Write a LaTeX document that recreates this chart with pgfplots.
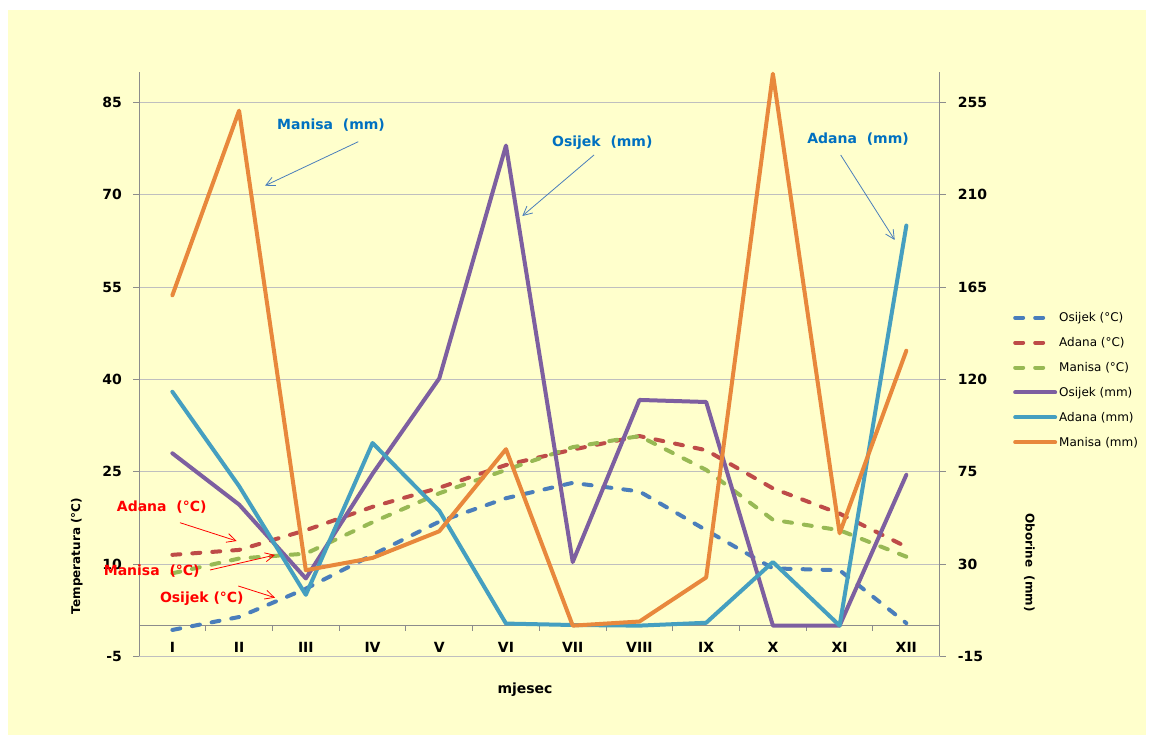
\documentclass[border=0pt]{standalone}
\usepackage{fontspec}
\setmainfont{DejaVu Sans}
\usepackage{pgfplots}
\usepackage{pgfplotstable}
\pgfplotsset{compat=1.18}
\usetikzlibrary{arrows.meta}

\definecolor{bg}{HTML}{FFFFCC}
\definecolor{cOsT}{HTML}{4A7EBB}
\definecolor{cAdT}{HTML}{BE4B48}
\definecolor{cMaT}{HTML}{98B954}
\definecolor{cOsP}{HTML}{7D5FA0}
\definecolor{cAdP}{HTML}{459FC0}
\definecolor{cMaP}{HTML}{E8883C}
\definecolor{gridc}{HTML}{BFBFBF}
\definecolor{axc}{HTML}{8C8C8C}
\definecolor{annb}{HTML}{0070C0}
\definecolor{arrb}{HTML}{4A7EBB}

\pgfplotstableread{
m os ad ma
1 -0.7 11.5 8.5
2 1.4 12.3 10.9
3 6.0 15.5 11.7
4 11.5 19.3 16.8
5 16.9 22.4 21.5
6 20.7 26.1 25.3
7 23.2 28.6 29.0
8 21.8 30.8 30.8
9 15.5 28.5 25.3
10 9.3 22.3 17.2
11 9.0 18.2 15.5
12 0.4 12.8 11.2
}\temp

\pgfplotstableread{
m os ad ma
1 84 114 161
2 59 68 251
3 23 15 27
4 74 89 33
5 120.5 56 46
6 234 1 86
7 31 0.3 0
8 110 0 2
9 109 1.4 23.5
10 0 31 269
11 0 0 45
12 73.5 195 134
}\prec

\tikzset{
  tdash/.style={line width=4pt, dash pattern=on 8pt off 12pt, line cap=round, line join=round},
  psol/.style={line width=4pt, line cap=round, line join=round},
}
\pgfplotsset{
  dashleg/.style={legend image code/.code={\draw[##1] (2pt,0pt) -- (30pt,0pt);}},
  solleg/.style={legend image code/.code={\draw[##1] (2pt,0pt) -- (42pt,0pt);}},
}

\begin{document}
\begin{tikzpicture}[x=1pt,y=1pt]
\fill[white] (0,0) rectangle (1150,738);
\fill[bg] (8,3) rectangle (1146,728);

\begin{axis}[
  at={(139pt,81.6pt)}, anchor=south west,
  scale only axis, width=800.7pt, height=584.7pt,
  xmin=0.5, xmax=12.5, ymin=-5, ymax=90,
  axis y line=left, axis x line=middle,
  axis line style={-, draw=axc, line width=1pt},
  clip=false,
  ytick={-5,10,25,40,55,70,85},
  ymajorgrids, grid style={draw=gridc, line width=1pt},
  xtick={1,...,12},
  xticklabels={I,II,III,IV,V,VI,VII,VIII,IX,X,XI,XII},
  minor xtick={1.5,2.5,...,11.5},
  major x tick style={draw=none},
  minor x tick style={draw=axc, line width=1pt},
  minor tick length=5pt,
  major tick length=6pt,
  y tick style={draw=axc, line width=1pt},
  tick align=outside,
  /pgf/number format/assume math mode=true,
  yticklabel style={font=\bfseries\fontsize{14}{16}\selectfont, inner sep=0pt, anchor=east, xshift=-11pt},
  xticklabel style={font=\bfseries\fontsize{14}{16}\selectfont, inner sep=0pt, anchor=center, yshift=-16pt},
]
\addplot[tdash, cOsT] table[x=m,y=os] {\temp};
\addplot[tdash, cAdT] table[x=m,y=ad] {\temp};
\addplot[tdash, cMaT] table[x=m,y=ma] {\temp};
\end{axis}

\begin{axis}[
  at={(139pt,81.6pt)}, anchor=south west,
  scale only axis, width=800.7pt, height=584.7pt,
  xmin=0.5, xmax=12.5, ymin=-15, ymax=270,
  axis y line=right, axis x line=none,
  axis line style={-, draw=axc, line width=1pt},
  clip=false,
  ytick={-15,30,75,120,165,210,255},
  major tick length=6pt,
  y tick style={draw=axc, line width=1pt},
  tick align=outside,
  /pgf/number format/assume math mode=true,
  yticklabel style={font=\bfseries\fontsize{14}{16}\selectfont, inner sep=0pt, anchor=west, xshift=12pt},
  legend style={at={(1.0915,0.4727)}, anchor=west, draw=none, fill=none,
    font=\fontsize{12}{14}\selectfont, row sep=10.3pt, inner sep=0pt},
  legend cell align=left,
]
\addlegendimage{tdash, cOsT, dashleg}
\addlegendentry{Osijek (°C)}
\addlegendimage{tdash, cAdT, dashleg}
\addlegendentry{Adana (°C)}
\addlegendimage{tdash, cMaT, dashleg}
\addlegendentry{Manisa (°C)}
\addlegendimage{psol, cOsP, solleg}
\addlegendentry{Osijek (mm)}
\addlegendimage{psol, cAdP, solleg}
\addlegendentry{Adana (mm)}
\addlegendimage{psol, cMaP, solleg}
\addlegendentry{Manisa (mm)}
\addplot[psol, cOsP, forget plot] table[x=m,y=os] {\prec};
\addplot[psol, cAdP, forget plot] table[x=m,y=ad] {\prec};
\addplot[psol, cMaP, forget plot] table[x=m,y=ma] {\prec};
\end{axis}

% annotations
\begin{scope}[font=\bfseries\fontsize{14}{16}\selectfont]
\node[annb] at (331,613) {Manisa~~(mm)};
\draw[arrb, line width=0.8pt, -{Straight Barb[length=9pt,width=9pt]}] (358.3,596.3) -- (265,552.3);
\node[annb] at (602.3,595.7) {Osijek~~(mm)};
\draw[arrb, line width=0.8pt, -{Straight Barb[length=9pt,width=9pt]}] (594,583) -- (522.3,522);
\node[annb] at (858,598.7) {Adana~~(mm)};
\draw[arrb, line width=0.8pt, -{Straight Barb[length=9pt,width=9pt]}] (840.7,583) -- (894.7,498);
\node[red] at (161.7,230.7) {Adana~~(°C)};
\draw[red, line width=0.8pt, -{Straight Barb[length=9pt,width=9pt]}] (180,215.3) -- (236.7,197);
\node[red] at (151.7,167.3) {Manisa~~(°C)};
\draw[red, line width=0.8pt, -{Straight Barb[length=9pt,width=9pt]}] (210,168) -- (275,183);
\node[red] at (201.8,139.7) {Osijek (°C)};
\draw[red, line width=0.8pt, -{Straight Barb[length=9pt,width=9pt]}] (238.3,152) -- (275,140.3);
\end{scope}

\node[rotate=90, font=\bfseries\fontsize{12}{14}\selectfont] at (76.7,182) {Temperatura (°C)};
\node[rotate=-90, font=\bfseries\fontsize{12}{14}\selectfont] at (1029.3,175.5) {Oborine~~(mm)};
\node[font=\bfseries\fontsize{14}{16}\selectfont] at (525,48) {mjesec};
\end{tikzpicture}
\end{document}
